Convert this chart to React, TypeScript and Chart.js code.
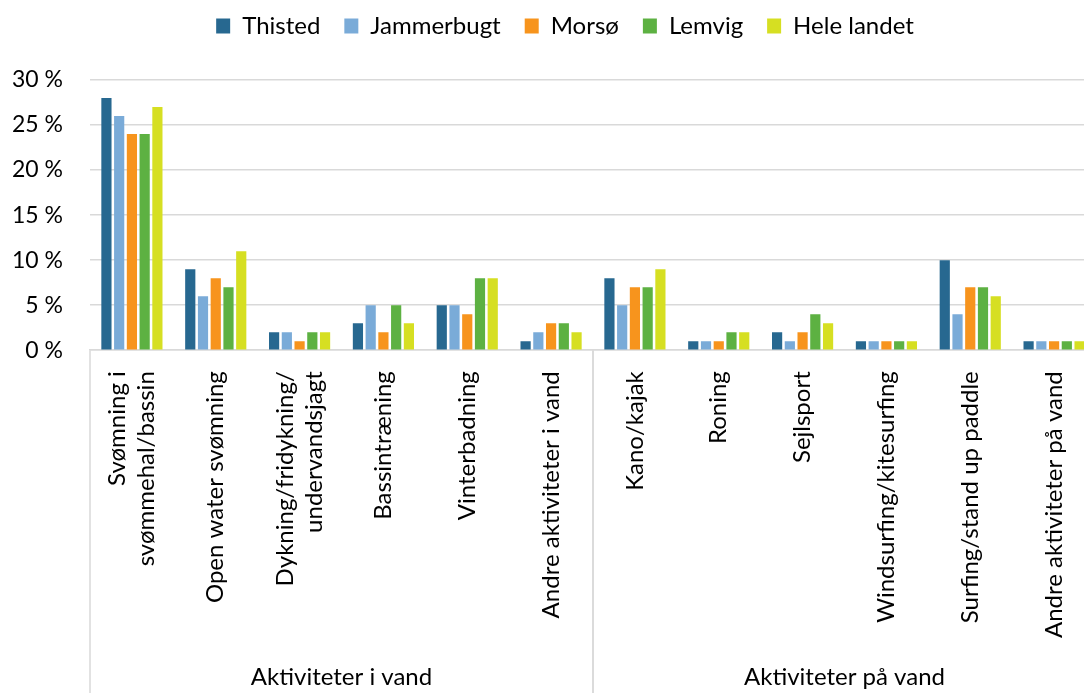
import React, { useEffect, useRef } from "react";
import { Chart, registerables } from "chart.js";

Chart.register(...registerables);

const categories: (string | string[])[] = [
  ["Svømning i", "svømmehal/bassin"],
  "Open water svømning",
  ["Dykning/fridykning/", "undervandsjagt"],
  "Bassintræning",
  "Vinterbadning",
  "Andre aktiviteter i vand",
  "Kano/kajak",
  "Roning",
  "Sejlsport",
  "Windsurfing/kitesurfing",
  "Surfing/stand up paddle",
  "Andre aktiviteter på vand",
];

const groups = [
  { label: "Aktiviteter i vand", start: 0, end: 5 },
  { label: "Aktiviteter på vand", start: 6, end: 11 },
];

const thisted = [28, 9, 2, 3, 5, 1, 8, 1, 2, 1, 10, 1];
const jammerbugt = [26, 6, 2, 5, 5, 2, 5, 1, 1, 1, 4, 1];
const morso = [24, 8, 1, 2, 4, 3, 7, 1, 2, 1, 7, 1];
const lemvig = [24, 7, 2, 5, 8, 3, 7, 2, 4, 1, 7, 1];
const heleLandet = [27, 11, 2, 3, 8, 2, 9, 2, 3, 1, 6, 1];

const seriesNames = ["Thisted", "Jammerbugt", "Morsø", "Lemvig", "Hele landet"];
const seriesColors = ["#276890", "#7aabd8", "#f7941d", "#5db142", "#d6df22"];

const FONT = "Lato, 'Open Sans', sans-serif";

const legendSpace = {
  id: "legendSpace",
  beforeInit(chart: any) {
    const legend = chart.legend;
    if (!legend) return;
    const orig = legend.fit;
    legend.fit = function () {
      orig.call(this);
      this.height += 18;
    };
  },
  afterLayout(chart: any) {
    const legend = chart.legend;
    if (!legend) return;
    legend.left += 17;
    legend.right += 17;
    legend.top -= 14;
    legend.bottom -= 14;
  },
  beforeDraw(chart: any) {
    const x = chart.scales.x;
    const items = x.getLabelItems(chart.chartArea);
    items.forEach((it: any) => {
      if (Array.isArray(it.label) && !it._centered) {
        it._centered = true;
        it.textOffset -= ((it.label.length - 1) * it.font.lineHeight) / 2;
      }
    });
  },
};

const groupPlugin = {
  id: "groupLabels",
  afterDraw(chart: any) {
    const x = chart.scales.x;
    const ctx = chart.ctx;
    const area = chart.chartArea;
    const half = (x.getPixelForValue(1) - x.getPixelForValue(0)) / 2;
    const bottom = chart.height;
    ctx.save();
    ctx.strokeStyle = "#d9d9d9";
    ctx.lineWidth = 1.5;
    groups.forEach((g) => {
      const l = x.getPixelForValue(g.start) - half;
      const r = x.getPixelForValue(g.end) + half;
      [l, r].forEach((px) => {
        ctx.beginPath();
        ctx.moveTo(px, area.bottom);
        ctx.lineTo(px, bottom);
        ctx.stroke();
      });
      ctx.fillStyle = "#000";
      ctx.font = `24px ${FONT}`;
      ctx.textAlign = "center";
      ctx.textBaseline = "middle";
      ctx.fillText(g.label, (l + r) / 2, bottom - 16);
    });
    ctx.restore();
  },
};

export default function App() {
  const ref = useRef<HTMLCanvasElement>(null);
  useEffect(() => {
    document.body.style.margin = "0";
    const values = [thisted, jammerbugt, morso, lemvig, heleLandet];
    const chart = new Chart(ref.current!, {
      type: "bar",
      data: {
        labels: categories,
        datasets: seriesNames.map((name, i) => ({
          label: name,
          data: values[i],
          backgroundColor: seriesColors[i],
          categoryPercentage: 0.76,
          barPercentage: 0.8,
        })),
      },
      options: {
        animation: false,
        responsive: true,
        maintainAspectRatio: false,
        layout: { padding: { top: 4, right: 34, bottom: 42, left: 0 } },
        plugins: {
          tooltip: { enabled: false },
          legend: {
            position: "top",
            labels: {
              boxWidth: 14,
              boxHeight: 15,
              padding: 24,
              color: "#000",
              font: { family: FONT, size: 24 },
            },
          },
        },
        scales: {
          x: {
            grid: { display: false },
            border: { display: true, color: "#d9d9d9", width: 1.5 },
            ticks: {
              color: "#000",
              font: { family: FONT, size: 24 },
              maxRotation: 90,
              minRotation: 90,
              autoSkip: false,
              padding: 13,
            },
          },
          y: {
            min: 0,
            max: 30,
            afterFit: (s: any) => {
              s.width = 90;
            },
            grid: { color: "#d9d9d9", lineWidth: 1.5, drawTicks: false },
            border: { display: false },
            ticks: {
              stepSize: 5,
              color: "#000",
              padding: 27,
              font: { family: FONT, size: 23 },
              callback: (v: any) => `${v} %`,
            },
          },
        },
      },
      plugins: [legendSpace, groupPlugin],
    });
    return () => chart.destroy();
  }, []);
  return (
    <div style={{ position: "absolute", left: 0, top: 0, width: 1084, height: 693, overflow: "hidden" }}>
      <div style={{ position: "relative", width: 1130, height: 693 }}>
        <canvas ref={ref} />
      </div>
    </div>
  );
}
